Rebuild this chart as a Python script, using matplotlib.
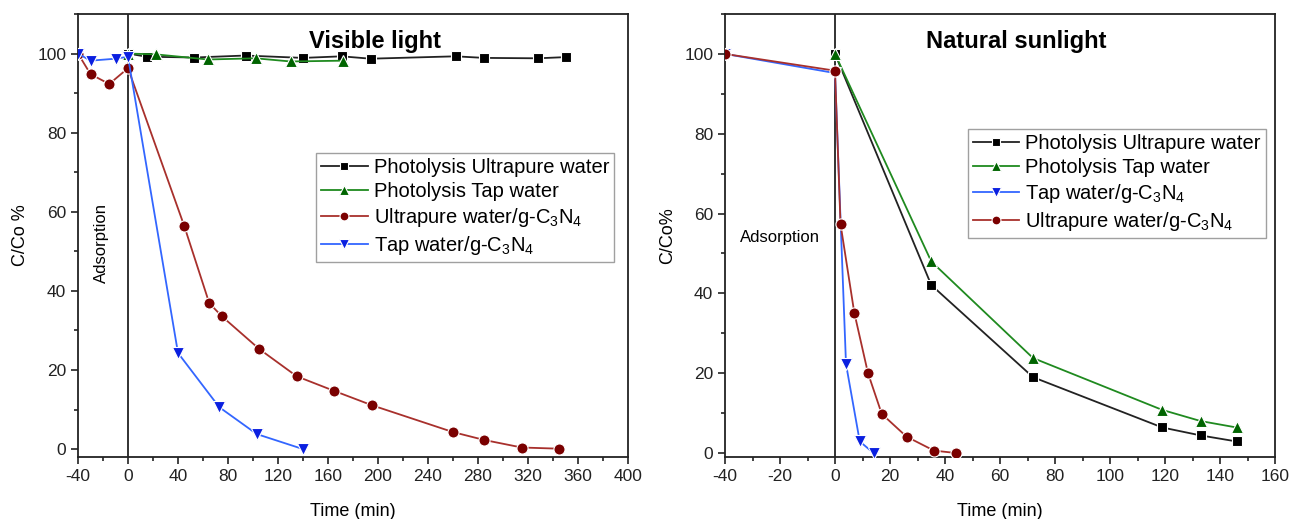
import matplotlib
matplotlib.use("Agg")
import matplotlib.pyplot as plt
from matplotlib.ticker import MultipleLocator

plt.rcParams['font.family'] = ['Liberation Sans', 'DejaVu Sans']
plt.rcParams['mathtext.default'] = 'regular'
plt.rcParams['axes.unicode_minus'] = False

# ---- Left panel (Visible light) ----
vl_pu_x = [0, 15, 53, 94, 140, 171, 194, 262, 285, 328, 350]
vl_pu_y = [100, 99.2, 99.0, 99.5, 98.9, 99.3, 98.7, 99.3, 98.9, 98.8, 99.1]
vl_pt_x = [0, 22, 64, 102, 130, 172]
vl_pt_y = [100, 99.8, 98.5, 98.8, 98.0, 98.2]
vl_ug_x = [-40, -30, -15, 0, 45, 65, 75, 105, 135, 165, 195, 260, 285, 315, 345]
vl_ug_y = [100, 94.8, 92.3, 96.3, 56.4, 36.9, 33.6, 25.3, 18.4, 14.7, 11.1, 4.3, 2.3, 0.4, 0.1]
vl_tg_x = [-40, -30, -10, 0, 40, 73, 103, 140]
vl_tg_y = [100, 98.2, 98.7, 99.2, 24.3, 10.6, 3.8, 0.0]

# ---- Right panel (Natural sunlight) ----
ns_pu_x = [0, 35, 72, 119, 133, 146]
ns_pu_y = [100, 42.1, 19.0, 6.4, 4.4, 2.9]
ns_pt_x = [0, 35, 72, 119, 133, 146]
ns_pt_y = [100, 48.0, 23.8, 10.8, 8.0, 6.4]
ns_tg_x = [-40, 0, 4, 9, 14]
ns_tg_y = [100, 95.2, 22.3, 2.9, 0.0]
ns_ug_x = [-40, 0, 2, 7, 12, 17, 26, 36, 44]
ns_ug_y = [100, 95.8, 57.4, 35.2, 20.0, 9.8, 4.1, 0.6, 0.0]

lab_pu = "Photolysis Ultrapure water"
lab_pt = "Photolysis Tap water"
lab_ug = "Ultrapure water/g-C$_3$N$_4$"
lab_tg = "Tap water/g-C$_3$N$_4$"

C_BLACK = ('#000000', '#222222')
C_GREEN = ('#006400', '#1f8a1f')
C_RED = ('#7a0000', '#a8302c')
C_BLUE = ('#0a1fe0', '#3366ff')

W, H = 1290, 519
fig = plt.figure(figsize=(W / 100, H / 100), dpi=100)
axL = fig.add_axes([78 / W, 1 - 457 / H, 550 / W, 443 / H])
axR = fig.add_axes([725 / W, 1 - 457 / H, 550 / W, 443 / H])

MS = {'s': 7.5, 'o': 8, '^': 9, 'v': 9}


def series(ax, x, y, col, marker, label):
    ax.plot(x, y, color=col[1], lw=1.3, marker=marker, ms=MS[marker],
            mfc=col[0], mec='white', mew=0.8, label=label, zorder=3)


def style(ax):
    for s in ax.spines.values():
        s.set_linewidth(1.3)
        s.set_color('#222222')
    ax.tick_params(which='both', direction='out', top=False, right=False,
                   labelsize=12.5, colors='#222222', width=1.2)
    ax.tick_params(which='major', length=5)
    ax.tick_params(which='minor', length=3)
    ax.yaxis.set_major_locator(MultipleLocator(20))
    ax.yaxis.set_minor_locator(MultipleLocator(10))
    ax.axvline(0, color='#222222', lw=1.3, zorder=2)


def legend(ax, anchor):
    h, l = ax.get_legend_handles_labels()
    leg = ax.legend(h, l, loc='upper left', bbox_to_anchor=anchor,
                    fontsize=14.5, frameon=True, fancybox=False, borderaxespad=0,
                    handlelength=2.3, handletextpad=0.3, labelspacing=0.25,
                    borderpad=0.25, markerscale=0.8)
    leg.get_frame().set_edgecolor('#888888')
    leg.get_frame().set_linewidth(1.0)


# Left
series(axL, vl_pu_x, vl_pu_y, C_BLACK, 's', lab_pu)
series(axL, vl_pt_x, vl_pt_y, C_GREEN, '^', lab_pt)
series(axL, vl_ug_x, vl_ug_y, C_RED, 'o', lab_ug)
series(axL, vl_tg_x, vl_tg_y, C_BLUE, 'v', lab_tg)
axL.set_xlim(-40, 400)
axL.set_ylim(-2, 110)
axL.xaxis.set_major_locator(MultipleLocator(40))
axL.xaxis.set_minor_locator(MultipleLocator(20))
style(axL)
axL.set_xlabel("Time (min)", fontsize=13, labelpad=14)
axL.set_ylabel("C/Co %", fontsize=13, labelpad=6)
axL.text(0.54, 0.965, "Visible light", transform=axL.transAxes, ha='center',
         va='top', fontsize=17, fontweight='bold')
axL.text(-21, 52, "Adsorption", rotation=90, ha='center', va='center', fontsize=12)
legend(axL, (0.433, 0.686))

# Right
series(axR, ns_pu_x, ns_pu_y, C_BLACK, 's', lab_pu)
series(axR, ns_pt_x, ns_pt_y, C_GREEN, '^', lab_pt)
series(axR, ns_tg_x, ns_tg_y, C_BLUE, 'v', lab_tg)
series(axR, ns_ug_x, ns_ug_y, C_RED, 'o', lab_ug)
axR.set_xlim(-40, 160)
axR.set_ylim(-1, 110)
axR.xaxis.set_major_locator(MultipleLocator(20))
axR.xaxis.set_minor_locator(MultipleLocator(10))
style(axR)
axR.set_xlabel("Time (min)", fontsize=13, labelpad=14)
axR.set_ylabel("C/Co%", fontsize=13, labelpad=6)
axR.text(0.53, 0.965, "Natural sunlight", transform=axR.transAxes, ha='center',
         va='top', fontsize=17, fontweight='bold')
axR.text(-20, 54, "Adsorption", ha='center', va='center', fontsize=12)
legend(axR, (0.442, 0.740))

fig.savefig("out.png", dpi=100)
